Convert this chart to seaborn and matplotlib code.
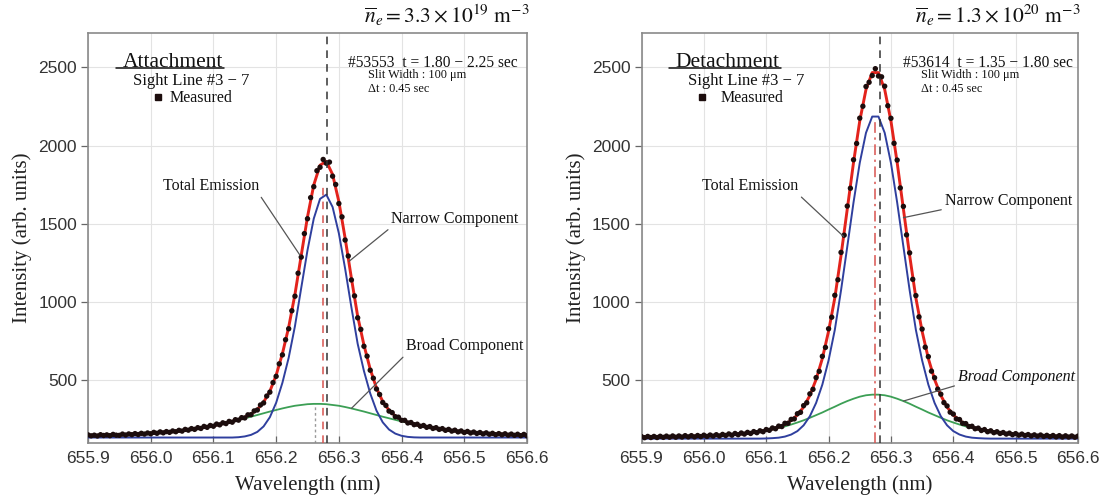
import numpy as np
import pandas as pd
import matplotlib
matplotlib.use("Agg")
import matplotlib.pyplot as plt
import seaborn as sns
from matplotlib.lines import Line2D

# ---------------- data ----------------
# fitted curves sampled every 0.01 nm from 655.90 to 656.60
wl_fit = np.round(np.linspace(655.90, 656.60, 71), 3)
# measured spectrum sampled every 0.005 nm from 655.900 to 656.600
wl_meas = np.round(np.linspace(655.90, 656.60, 141), 4)

# ---- Attachment (#53553) ----
att_total = [148, 148, 149, 150, 151, 153, 154, 156, 157, 160,
             162, 165, 168, 171, 175, 180, 185, 191, 197, 204,
             211, 220, 228, 238, 250, 265, 285, 315, 361, 431,
             533, 671, 840, 1050, 1299, 1545, 1749, 1875, 1900, 1816,
             1643, 1409, 1153, 910, 726, 572, 451, 365, 309, 273,
             249, 232, 221, 211, 204, 197, 191, 185, 180, 175,
             171, 168, 165, 162, 160, 157, 156, 154, 153, 151, 150]
att_narrow = [135] * 24 + [137, 142, 152, 171, 206, 265, 357, 485, 645, 847,
                           1091, 1332, 1534, 1660, 1687, 1608, 1440, 1214, 967, 734,
                           560, 417, 307, 232, 186, 160, 146, 139, 136] + [135] * 18
att_broad = [148, 148, 149, 150, 151, 153, 154, 156, 157, 160,
             162, 165, 168, 171, 175, 180, 185, 191, 197, 204,
             211, 220, 228, 238, 248, 258, 268, 279, 290, 301,
             311, 321, 330, 338, 343, 348, 350, 350, 348, 343,
             338, 330, 321, 311, 301, 290, 279, 268, 258, 248,
             238, 228, 220, 211, 204, 197, 191, 185, 180, 175,
             171, 168, 165, 162, 160, 157, 156, 154, 153, 151, 150]
att_meas = [152, 146, 150, 145, 153, 148, 152, 147, 155, 150, 149, 157, 151, 158, 153, 160, 154, 162, 157, 164,
            159, 168, 162, 171, 165, 173, 168, 177, 172, 181, 176, 187, 182, 192, 187, 198, 193, 206, 200, 212,
            207, 221, 216, 229, 224, 238, 233, 249, 246, 262, 260, 280, 281, 305, 311, 343, 356, 400, 425, 486,
            526, 606, 663, 760, 830, 945, 1038, 1185, 1288, 1438, 1533, 1668, 1738, 1840, 1862, 1912, 1888, 1895, 1805, 1752,
            1630, 1545, 1397, 1295, 1142, 1040, 900, 826, 718, 655, 565, 514, 445, 410, 359, 340, 304, 294, 268, 265,
            245, 245, 228, 231, 217, 220, 207, 212, 200, 205, 193, 198, 187, 192, 181, 187, 176, 182, 171, 177,
            167, 174, 164, 170, 161, 167, 158, 165, 156, 162, 153, 160, 152, 159, 150, 157, 149, 156, 147, 155, 146]

# ---- Detachment (#53614) ----
det_total = [137, 138, 138, 139, 140, 140, 141, 142, 143, 144,
             145, 147, 148, 150, 153, 156, 159, 163, 168, 173,
             181, 190, 202, 219, 244, 279, 330, 404, 506, 640,
             814, 1027, 1299, 1595, 1892, 2158, 2359, 2467, 2467, 2359,
             2158, 1892, 1595, 1299, 1027, 814, 640, 506, 404, 330,
             279, 244, 219, 202, 190, 181, 173, 168, 163, 159,
             156, 153, 150, 148, 147, 145, 144, 143, 142, 141, 140]
det_narrow = [128] * 20 + [129, 131, 134, 141, 154, 176, 213, 271, 356, 473,
                           628, 823, 1076, 1355, 1637, 1890, 2082, 2186, 2186, 2082,
                           1890, 1637, 1355, 1076, 823, 628, 473, 356, 271, 213,
                           176, 154, 141, 134, 131, 129] + [128] * 15
det_broad = [137, 138, 138, 139, 140, 140, 141, 142, 143, 144,
             145, 147, 148, 150, 153, 156, 159, 163, 168, 173,
             180, 187, 196, 206, 218, 231, 245, 261, 278, 295,
             314, 332, 351, 368, 383, 396, 405, 409, 409, 405,
             396, 383, 368, 351, 332, 314, 295, 278, 261, 245,
             231, 218, 206, 196, 187, 180, 173, 168, 163, 159,
             156, 153, 150, 148, 147, 145, 144, 143, 142, 141, 140]
det_meas = [141, 134, 142, 135, 142, 135, 143, 136, 144, 137, 145, 137, 145, 138, 147, 139, 147, 139, 148, 141,
            150, 142, 151, 144, 153, 145, 155, 148, 158, 150, 161, 153, 164, 157, 168, 161, 173, 166, 178, 172,
            186, 181, 196, 191, 208, 205, 226, 226, 251, 254, 287, 296, 339, 357, 414, 443, 518, 558, 654, 711,
            830, 904, 1044, 1143, 1318, 1428, 1614, 1728, 1910, 2014, 2176, 2252, 2378, 2405, 2448, 2492, 2445, 2440, 2380, 2255,
            2175, 2015, 1908, 1730, 1612, 1430, 1315, 1146, 1042, 906, 828, 712, 652, 559, 517, 444, 412, 358, 337, 297,
            285, 254, 250, 226, 224, 205, 207, 191, 195, 180, 186, 172, 178, 166, 172, 161, 167, 157, 163, 153,
            160, 150, 157, 148, 154, 145, 152, 144, 151, 142, 149, 141, 148, 139, 147, 138, 146, 138, 145, 137, 144]

x_ticks = [655.9, 656.0, 656.1, 656.2, 656.3, 656.4, 656.5, 656.6]
x_tick_labels = ["655.9", "656.0", "656.1", "656.2", "656.3", "656.4", "656.5", "656.6"]
y_ticks = [500, 1000, 1500, 2000, 2500]
y_tick_labels = ["500", "1000", "1500", "2000", "2500"]

# ---------------- style ----------------
sns.set_theme(style="white")
plt.rcParams["font.family"] = ["Liberation Serif", "DejaVu Serif"]
plt.rcParams["mathtext.fontset"] = "stix"

RED = "#e3231c"
BLUE = "#2f3f9e"
GREEN = "#3c9f55"
DOT = "#1c0d0d"
ANN = "#555555"

fig = plt.figure(figsize=(11.04, 4.96), dpi=100)
ax_l = fig.add_axes([88 / 1104, 53 / 496, 439 / 1104, 410 / 496])
ax_r = fig.add_axes([641.5 / 1104, 53 / 496, 436.5 / 1104, 410 / 496])

panels = [
    dict(ax=ax_l, total=att_total, narrow=att_narrow, broad=att_broad, meas=att_meas,
         title=r"$\overline{n}_e = 3.3 \times 10^{19}\ \mathrm{m}^{-3}$",
         regime="Attachment", shot="#53553  t = 1.80 \u2212 2.25 sec",
         black_line=656.281, red_line=656.275, red_top=1740, red_ls=(0, (5, 4)),
         gray_line=656.262, gray_top=350,
         leg_x=0.145, leg_pad=0.3, sight_x=0.1025, regime_x=0.080,
         shot_x=0.592, slit_x=0.638,
         tot_xy=(656.238, 1300), tot_txt=(656.096, 1742),
         nar_xy=(656.316, 1260), nar_txt=(656.485, 1531),
         bro_xy=(656.320, 321), bro_txt=(656.501, 720), bro_style="normal"),
    dict(ax=ax_r, total=det_total, narrow=det_narrow, broad=det_broad, meas=det_meas,
         title=r"$\overline{n}_e = 1.3 \times 10^{20}\ \mathrm{m}^{-3}$",
         regime="Detachment", shot="#53614  t = 1.35 \u2212 1.80 sec",
         black_line=656.282, red_line=656.275, red_top=2150, red_ls=(0, (7, 3, 1.5, 3)),
         gray_line=None, gray_top=None,
         leg_x=0.125, leg_pad=0.75, sight_x=0.1065, regime_x=0.078,
         shot_x=0.599, slit_x=0.640,
         tot_xy=(656.224, 1420), tot_txt=(656.074, 1742),
         nar_xy=(656.320, 1540), nar_txt=(656.488, 1646),
         bro_xy=(656.320, 368), bro_txt=(656.501, 522), bro_style="italic"),
]

YLIM = (100, 2720)
underline_texts = []

for p in panels:
    ax = p["ax"]
    fit_df = pd.DataFrame({"wl": wl_fit, "total": p["total"], "narrow": p["narrow"], "broad": p["broad"]})
    meas_df = pd.DataFrame({"wl": wl_meas, "I": p["meas"]})

    sns.lineplot(data=fit_df, x="wl", y="broad", ax=ax, color=GREEN, lw=1.3, estimator=None, sort=False, zorder=3)
    sns.lineplot(data=fit_df, x="wl", y="narrow", ax=ax, color=BLUE, lw=1.4, estimator=None, sort=False, zorder=3)
    sns.lineplot(data=fit_df, x="wl", y="total", ax=ax, color=RED, lw=2.1, estimator=None, sort=False, zorder=3)
    sns.scatterplot(data=meas_df, x="wl", y="I", ax=ax, marker="o", s=15, color=DOT,
                    edgecolor="none", linewidth=0, zorder=4, legend=False)

    ax.set_xlim(655.9, 656.6)
    ax.set_ylim(*YLIM)

    # reference lines at line centres
    ax.axvline(p["black_line"], color="#333333", lw=1.1, ls=(0, (5, 4)), zorder=5)
    ax.vlines(p["red_line"], YLIM[0], p["red_top"], color="#d9534f", lw=1.1, ls=p["red_ls"], zorder=5)
    if p["gray_line"] is not None:
        ax.vlines(p["gray_line"], YLIM[0], p["gray_top"], color="#9a9a9a", lw=1.0, ls=(0, (2, 2)), zorder=2)

    # axes styling
    ax.set_xticks(x_ticks)
    ax.set_xticklabels(x_tick_labels, family="Liberation Sans", fontsize=12.5, color="#333333")
    ax.set_yticks(y_ticks)
    ax.set_yticklabels(y_tick_labels, family="Liberation Sans", fontsize=12.5, color="#333333")
    ax.tick_params(axis="x", direction="in", length=5, width=0.9, color="#666666", pad=6, bottom=True)
    ax.tick_params(axis="y", direction="out", length=5, width=0.9, color="#666666", pad=3, left=True)
    ax.grid(True, color="#e3e3e3", lw=0.8)
    ax.set_axisbelow(True)
    for sp in ax.spines.values():
        sp.set_color("#8a8a8a")
        sp.set_linewidth(1.2)

    ax.set_xlabel("Wavelength (nm)", fontsize=15, color="#222222")
    ax.set_ylabel("Intensity (arb. units)", fontsize=15, color="#222222")
    ax.xaxis.set_label_coords(0.5, -0.078)
    ax.yaxis.set_label_coords(-0.128, 0.5)

    # density title
    ax.text(1.006, 1.012, p["title"], transform=ax.transAxes, ha="right", va="bottom",
            fontsize=15.5, color="#111111")

    # headers
    t = ax.text(p["regime_x"], 0.927, p["regime"], transform=ax.transAxes, ha="left", va="center",
                fontsize=15.5, color="#111111")
    underline_texts.append(t)
    ax.text(p["sight_x"], 0.883, "Sight Line #3 \u2212 7", transform=ax.transAxes, ha="left",
            va="center", fontsize=12, color="#111111")
    ax.text(p["shot_x"], 0.927, p["shot"], transform=ax.transAxes, ha="left",
            va="center", fontsize=11.2, color="#111111")
    ax.text(p["slit_x"], 0.897, "Slit Width : 100 \u03bcm", transform=ax.transAxes,
            ha="left", va="center", fontsize=8.8, color="#111111")
    ax.text(p["slit_x"], 0.863, "\u0394t : 0.45 sec", transform=ax.transAxes,
            ha="left", va="center", fontsize=8.8, color="#111111")

    meas_handle = Line2D([], [], ls="none", marker="s", markersize=4.5, color=DOT)
    leg = ax.legend(handles=[meas_handle], labels=["Measured"], loc="center left",
                    bbox_to_anchor=(p["leg_x"], 0.841), frameon=False,
                    handlelength=0.8, handletextpad=p["leg_pad"], borderpad=0, borderaxespad=0,
                    prop={"family": "Liberation Serif", "size": 11.5})
    for txt in leg.get_texts():
        txt.set_color("#111111")

    # component annotations
    arrow = dict(arrowstyle="-", color=ANN, lw=0.9, shrinkA=0, shrinkB=0)
    ax.annotate("Total Emission", xy=p["tot_xy"], xytext=p["tot_txt"], textcoords="data",
                ha="center", va="center", fontsize=11.5, color="#111111",
                arrowprops=dict(arrow, relpos=(1, 0)), zorder=6)
    ax.annotate("Narrow Component", xy=p["nar_xy"], xytext=p["nar_txt"], textcoords="data",
                ha="center", va="center", fontsize=11.5, color="#111111",
                arrowprops=dict(arrow, relpos=(0, 0)), zorder=6)
    ax.annotate("Broad Component", xy=p["bro_xy"], xytext=p["bro_txt"], textcoords="data",
                ha="center", va="center", fontsize=11.5, color="#111111", style=p["bro_style"],
                arrowprops=dict(arrow, relpos=(0, 0)), zorder=6)

# underline the regime labels
fig.canvas.draw()
renderer = fig.canvas.get_renderer()
inv = fig.transFigure.inverted()
for t in underline_texts:
    bb = t.get_window_extent(renderer=renderer)
    (x0, y0) = inv.transform((bb.x0 - 7, bb.y0 + 4))
    (x1, _) = inv.transform((bb.x1 + 1, bb.y0 + 4))
    fig.add_artist(Line2D([x0, x1], [y0, y0], transform=fig.transFigure, color="#111111", lw=1.1))

fig.savefig("out.png", dpi=100)
